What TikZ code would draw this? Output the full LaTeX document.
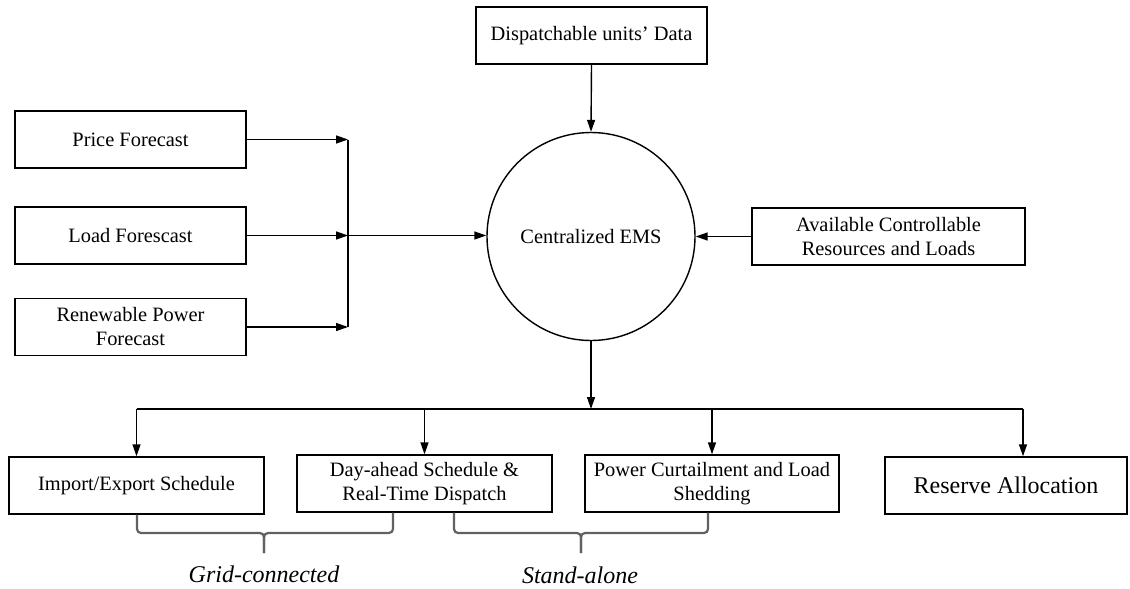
\documentclass[tikz,border=0pt]{standalone}
\usepackage{fontspec}
\setmainfont{Liberation Serif}
\usetikzlibrary{arrows.meta}
\begin{document}
\begin{tikzpicture}[x=0.5pt,y=-0.5pt,
  box/.style={draw, line width=0.7pt, align=center, inner sep=0pt,
              font=\fontsize{10.2}{12}\selectfont},
  smallbox/.style={box, minimum width=115.5pt, minimum height=28.5pt},
  widebox/.style={box, minimum width=127.5pt, minimum height=28.5pt},
  link/.style={line width=0.7pt},
  arrow/.style={link, -{Triangle[length=6pt,width=4pt]}},
  brace/.style={draw=black!62, line width=1.1pt, rounded corners=2pt},
  tag/.style={font=\fontsize{12}{14}\selectfont\itshape, anchor=base}]
\useasboundingbox (0,0) rectangle (1130,589);

% inputs on the left
\node[smallbox] (price) at (130.5,139.5) {Price Forecast};
\node[smallbox] (load)  at (130.5,235.5) {Load Forescast};
\node[smallbox] (renew) at (130.5,327)   {Renewable Power\\Forecast};

% central controller and its other inputs
\node[draw, circle, line width=0.7pt, minimum size=104pt, inner sep=0pt,
      font=\fontsize{10.2}{12}\selectfont] (ems) at (591,236.5) {Centralized EMS};
\node[smallbox] (disp) at (591.5,35.5) {Dispatchable units’ Data};
\node[box, minimum width=136.5pt, minimum height=28.5pt] (avail) at (888.5,236.5)
  {Available Controllable\\Resources and Loads};

% outputs
\node[widebox] (impex) at (136.5,485.5) {Import/Export Schedule};
\node[widebox] (dayah) at (424.5,483.5) {Day-ahead Schedule \&\\Real-Time Dispatch};
\node[box, minimum width=127pt, minimum height=28.5pt] (curt) at (712,483.5)
  {Power Curtailment and Load\\Shedding};
\node[box, minimum width=121pt, minimum height=28.5pt,
      font=\fontsize{12}{14}\selectfont] (resv) at (1006,485.5) {Reserve Allocation};

% collector bus for the forecasts
\coordinate (bp) at (348,139.5);
\coordinate (bl) at (348,235.5);
\coordinate (br) at (348,327);
\draw[arrow] (price.east) -- (bp);
\draw[arrow] (load.east)  -- (bl);
\draw[arrow] (renew.east) -- (br);
\draw[link] (bp) -- (br);
\draw[arrow] (bl) -- (ems.west |- bl);

\draw[arrow] (disp.south) -- (ems.north);
\draw[arrow] (avail.west) -- (ems.east);

% distribution bus for the outputs
\coordinate (dj) at (591,409);
\coordinate (d1) at (136.5,409);
\coordinate (d2) at (424.5,409);
\coordinate (d3) at (712,409);
\coordinate (d4) at (1023,409);
\draw[arrow] (ems.south) -- (dj);
\draw[link] (d1) -- (d4);
\draw[arrow] (d1) -- (impex.north);
\draw[arrow] (d2) -- (dayah.north);
\draw[arrow] (d3) -- (curt.north);
\draw[arrow] (d4) -- (resv.north -| d4);

% braces grouping the operating modes
\coordinate (gt) at (264,553);
\draw[brace] (impex.south -| 137,0) -- (137,533) -- (264,533) -- (gt);
\draw[brace] (dayah.south -| 393,0) -- (393,533) -- (264,533) -- (gt);
\node[tag] (grid) at (264,582) {Grid-connected};

\coordinate (st) at (581,553);
\draw[brace] (dayah.south -| 454,0) -- (454,533) -- (581,533) -- (st);
\draw[brace] (curt.south -| 708,0) -- (708,533) -- (581,533) -- (st);
\node[tag] (stand) at (580,583) {Stand-alone};
\end{tikzpicture}
\end{document}
